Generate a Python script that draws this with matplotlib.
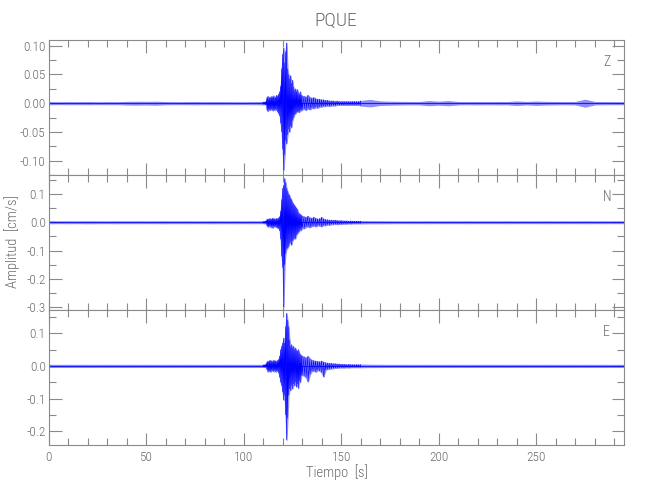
import numpy as np
import matplotlib
matplotlib.use("Agg")
import matplotlib.pyplot as plt
from matplotlib.ticker import MultipleLocator, FormatStrFormatter

# ---------------- data ----------------
title = "PQUE"
components = ["Z", "N", "E"]
xlabel = "Tiempo  [s]"
ylabel = "Amplitud  [cm/s]"
x_ticks = [0, 50, 100, 150, 200, 250]

# background noise envelope, every 5 s from 0 to 295 s
t_noise = [0, 5, 10, 15, 20, 25, 30, 35, 40, 45,
           50, 55, 60, 65, 70, 75, 80, 85, 90, 95,
           100, 105, 110, 115, 120, 125, 130, 135, 140, 145,
           150, 155, 160, 165, 170, 175, 180, 185, 190, 195,
           200, 205, 210, 215, 220, 225, 230, 235, 240, 245,
           250, 255, 260, 265, 270, 275, 280, 285, 290, 295]
noise_Z = [0.0018, 0.0015, 0.0017, 0.0016, 0.0018, 0.0015, 0.0017, 0.0016, 0.0022, 0.0024,
           0.0022, 0.0025, 0.0018, 0.0016, 0.0017, 0.0019, 0.0016, 0.0018, 0.0017, 0.0016,
           0.0015, 0.0017, 0.0020, 0.0020, 0.0020, 0.0020, 0.0020, 0.0020, 0.0020, 0.0020,
           0.0030, 0.0030, 0.0045, 0.0055, 0.0030, 0.0025, 0.0022, 0.0020, 0.0020, 0.0035,
           0.0025, 0.0035, 0.0020, 0.0018, 0.0020, 0.0018, 0.0020, 0.0019, 0.0030, 0.0020,
           0.0028, 0.0022, 0.0020, 0.0018, 0.0020, 0.0060, 0.0020, 0.0018, 0.0017, 0.0016]
noise_N = [0.0035, 0.0030, 0.0032, 0.0030, 0.0034, 0.0031, 0.0030, 0.0033, 0.0030, 0.0032,
           0.0030, 0.0031, 0.0033, 0.0030, 0.0032, 0.0030, 0.0031, 0.0033, 0.0030, 0.0032,
           0.0030, 0.0032, 0.0030, 0.0030, 0.0030, 0.0030, 0.0030, 0.0030, 0.0030, 0.0030,
           0.0050, 0.0045, 0.0040, 0.0035, 0.0035, 0.0032, 0.0030, 0.0031, 0.0030, 0.0032,
           0.0030, 0.0031, 0.0030, 0.0032, 0.0030, 0.0031, 0.0030, 0.0032, 0.0030, 0.0031,
           0.0030, 0.0032, 0.0030, 0.0031, 0.0030, 0.0032, 0.0030, 0.0031, 0.0030, 0.0030]
noise_E = [0.0032, 0.0030, 0.0031, 0.0030, 0.0033, 0.0030, 0.0031, 0.0030, 0.0032, 0.0030,
           0.0031, 0.0030, 0.0032, 0.0030, 0.0031, 0.0030, 0.0032, 0.0030, 0.0031, 0.0030,
           0.0030, 0.0031, 0.0030, 0.0030, 0.0030, 0.0030, 0.0030, 0.0030, 0.0030, 0.0030,
           0.0045, 0.0040, 0.0038, 0.0035, 0.0033, 0.0031, 0.0030, 0.0032, 0.0030, 0.0031,
           0.0030, 0.0031, 0.0030, 0.0032, 0.0030, 0.0031, 0.0030, 0.0032, 0.0030, 0.0031,
           0.0030, 0.0031, 0.0030, 0.0032, 0.0030, 0.0031, 0.0030, 0.0031, 0.0030, 0.0030]

# event window: peak (upper) and trough (lower) amplitudes
t_burst = [110.0, 110.5, 111.0, 111.5, 112.0, 112.5, 113.0, 113.5, 114.0, 114.5,
           115.0, 115.5, 116.0, 116.5, 117.0, 117.5, 118.0, 118.5, 119.0, 119.5,
           120.0, 120.5, 121.0, 121.5, 122.0, 122.5, 123.0, 123.5, 124.0, 124.5,
           125.0, 125.5, 126.0, 126.5, 127.0, 127.5, 128.0, 128.5, 129.0, 129.5,
           130.0,
           131, 132, 133, 134, 135, 136, 137, 138, 139, 140,
           141, 142, 143, 144, 145, 146, 147, 148, 149, 150,
           151, 152, 153, 154, 155, 156, 157, 158, 159, 160]

up_Z = [.002, .002, .002, .003, .010, .012, .008, .011, .009, .012,
        .010, .013, .009, .011, .014, .012, .016, .020, .030, .060,
        .085, .096, .070, .090, .105, .060, .050, .042, .048, .035,
        .040, .028, .022, .025, .020, .024, .018, .015, .020, .014,
        .013,
        .012, .011, .014, .010, .009, .010, .008, .007, .007, .006,
        .006, .005, .005, .004, .004, .004, .003, .004, .003, .003,
        .003, .003, .003, .003, .003, .003, .003, .003, .003, .004]
lo_Z = [-.002, -.002, -.002, -.003, -.012, -.014, -.010, -.012, -.011, -.010,
        -.013, -.011, -.012, -.010, -.012, -.015, -.018, -.022, -.035, -.050,
        -.080, -.116, -.090, -.065, -.070, -.055, -.045, -.050, -.040, -.042,
        -.030, -.025, -.020, -.018, -.016, -.015, -.014, -.016, -.012, -.013,
        -.011,
        -.010, -.012, -.009, -.011, -.008, -.009, -.007, -.008, -.006, -.006,
        -.005, -.005, -.004, -.005, -.004, -.004, -.004, -.003, -.003, -.003,
        -.003, -.003, -.003, -.003, -.003, -.003, -.003, -.003, -.003, -.004]

up_N = [.003, .003, .004, .005, .010, .012, .009, .014, .010, .012,
        .015, .011, .013, .010, .014, .012, .016, .020, .040, .080,
        .120, .130, .155, .140, .120, .110, .100, .095, .085, .080,
        .070, .065, .060, .055, .050, .045, .035, .030, .028, .025,
        .022,
        .020, .018, .022, .016, .015, .018, .014, .012, .013, .018,
        .012, .010, .009, .008, .008, .007, .008, .006, .006, .006,
        .005, .005, .005, .004, .005, .004, .004, .004, .004, .004]
lo_N = [-.003, -.004, -.003, -.006, -.012, -.016, -.014, -.012, -.018, -.014,
        -.020, -.013, -.016, -.014, -.018, -.020, -.022, -.030, -.060, -.120,
        -.160, -.298, -.150, -.110, -.095, -.090, -.085, -.075, -.070, -.080,
        -.065, -.060, -.055, -.058, -.045, -.040, -.035, -.032, -.025, -.028,
        -.020,
        -.022, -.016, -.015, -.018, -.014, -.012, -.015, -.011, -.012, -.015,
        -.010, -.011, -.008, -.009, -.007, -.007, -.006, -.007, -.006, -.006,
        -.005, -.005, -.005, -.004, -.005, -.004, -.004, -.004, -.004, -.004]

up_E = [.003, .003, .004, .005, .012, .015, .012, .018, .014, .016,
        .012, .018, .014, .016, .013, .017, .020, .030, .050, .060,
        .070, .085, .070, .120, .161, .140, .120, .080, .060, .065,
        .055, .060, .050, .055, .048, .045, .050, .040, .035, .032,
        .030,
        .028, .025, .030, .022, .018, .016, .015, .014, .013, .015,
        .012, .010, .009, .008, .008, .007, .007, .006, .006, .005,
        .005, .005, .004, .005, .004, .004, .004, .004, .004, .004]
lo_E = [-.003, -.003, -.004, -.005, -.012, -.018, -.014, -.016, -.018, -.012,
        -.015, -.017, -.013, -.018, -.014, -.016, -.022, -.035, -.050, -.060,
        -.080, -.104, -.090, -.150, -.226, -.160, -.090, -.070, -.075, -.060,
        -.070, -.055, -.060, -.050, -.064, -.055, -.068, -.045, -.050, -.030,
        -.028,
        -.030, -.035, -.048, -.025, -.016, -.015, -.018, -.013, -.015, -.020,
        -.033, -.012, -.010, -.009, -.008, -.007, -.006, -.006, -.005, -.005,
        -.005, -.005, -.004, -.005, -.004, -.004, -.004, -.004, -.004, -.004]

y_ticks_Z = [-0.10, -0.05, 0.00, 0.05, 0.10]
y_ticks_N = [-0.3, -0.2, -0.1, 0.0, 0.1]
y_ticks_E = [-0.2, -0.1, 0.0, 0.1]

# ---------------- styling / layout ----------------
plt.rcParams['font.family'] = ['Roboto Condensed', 'Liberation Sans Narrow',
                               'Roboto', 'DejaVu Sans']
plt.rcParams['font.weight'] = 'light'
axis_gray = '#8a8a8a'
text_gray = '#6c6c6c'
trace_col = (0.0, 0.0, 1.0)
fill_col = (0.55, 0.55, 1.0)

W, H = 650, 500
fig = plt.figure(figsize=(6.5, 5), dpi=100)
left_px, right_px = 48.5, 624
tops_px = [40, 175, 310]
panel_h = 135

panels = [
    ("Z", noise_Z, up_Z, lo_Z, y_ticks_Z, (-0.125, 0.110), 0.025, '%.2f'),
    ("N", noise_N, up_N, lo_N, y_ticks_N, (-0.31, 0.167), 0.05, '%.1f'),
    ("E", noise_E, up_E, lo_E, y_ticks_E, (-0.242, 0.171), 0.05, '%.1f'),
]

tn = np.array(t_noise, dtype=float)
tb = np.array(t_burst, dtype=float)
t0, t1 = tb.min(), tb.max()

for i, (name, noise, up, lo, yt, ylim, yminor, fmt) in enumerate(panels):
    ax = fig.add_axes([left_px / W, 1 - (tops_px[i] + panel_h) / H,
                       (right_px - left_px) / W, panel_h / H])
    nz = np.array(noise)
    before = tn < t0
    after = tn > t1
    t = np.concatenate([tn[before], tb, tn[after]])
    u = np.concatenate([nz[before], np.array(up), nz[after]])
    l = np.concatenate([-nz[before], np.array(lo), -nz[after]])
    # whole record as an envelope band
    ax.fill_between(t, l, u, color=fill_col, lw=0.8, edgecolor=fill_col)
    ax.plot(t, np.zeros_like(t), color=trace_col, lw=0.8, alpha=0.8)
    # event window traced as alternating peaks and troughs
    xs = np.repeat(tb, 2)
    ys = np.column_stack([up, lo]).ravel()
    ax.plot(xs, ys, color=trace_col, lw=0.4)

    ax.set_xlim(0, 295)
    ax.set_ylim(*ylim)
    ax.set_yticks(yt)
    ax.yaxis.set_minor_locator(MultipleLocator(yminor))
    ax.yaxis.set_major_formatter(FormatStrFormatter(fmt))
    ax.set_xticks(x_ticks)
    ax.xaxis.set_minor_locator(MultipleLocator(10))
    ax.tick_params(which='both', direction='in', top=True, right=True,
                   colors=axis_gray, labelcolor=text_gray, width=0.8,
                   labelsize=9.5, pad=2)
    ax.tick_params(which='major', length=9)
    ax.tick_params(which='minor', length=5)
    if i < 2:
        ax.tick_params(labelbottom=False)
    else:
        ax.tick_params(axis='x', pad=4)
    for s in ax.spines.values():
        s.set_color(axis_gray)
        s.set_linewidth(0.8)
    ax.text(0.970, 0.84, name, transform=ax.transAxes, ha='center', va='center',
            color=text_gray, fontsize=10)

fig.text(336 / W, 1 - 21 / H, title, ha='center', va='center',
         color=text_gray, fontsize=14)
fig.text(337 / W, 1 - 472 / H, xlabel, ha='center', va='center',
         color=text_gray, fontsize=10.5)
fig.text(12 / W, 1 - 242 / H, ylabel, ha='center', va='center', rotation=90,
         color=text_gray, fontsize=10.5)

fig.savefig("out.png", dpi=100)
